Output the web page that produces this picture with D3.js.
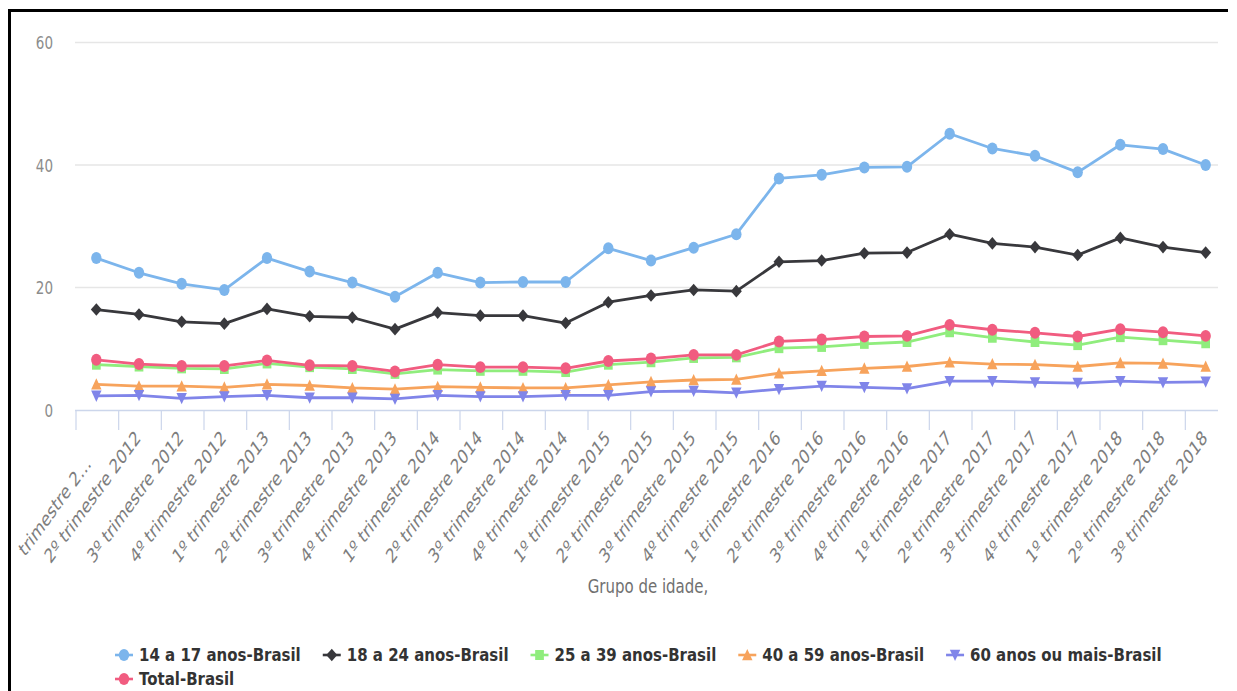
<!DOCTYPE html>
<html><head><meta charset="utf-8">
<script src="https://cdn.jsdelivr.net/npm/d3@7/dist/d3.min.js"></script>
<style>
html,body{margin:0;padding:0;background:#fff;}
svg{display:block;}
</style></head>
<body>
<svg id="chart" width="1237" height="691"></svg>
<script>
// ---------- DATA ----------
const categories = [
  "1º trimestre 2012","2º trimestre 2012","3º trimestre 2012","4º trimestre 2012",
  "1º trimestre 2013","2º trimestre 2013","3º trimestre 2013","4º trimestre 2013",
  "1º trimestre 2014","2º trimestre 2014","3º trimestre 2014","4º trimestre 2014",
  "1º trimestre 2015","2º trimestre 2015","3º trimestre 2015","4º trimestre 2015",
  "1º trimestre 2016","2º trimestre 2016","3º trimestre 2016","4º trimestre 2016",
  "1º trimestre 2017","2º trimestre 2017","3º trimestre 2017","4º trimestre 2017",
  "1º trimestre 2018","2º trimestre 2018","3º trimestre 2018"
];
const firstLabelShown = "trimestre 2…";
const s14a17 = [24.8,22.4,20.6,19.6,24.8,22.6,20.8,18.5,22.4,20.8,20.9,20.9,26.4,24.4,26.5,28.7,37.8,38.4,39.6,39.7,45.1,42.7,41.5,38.8,43.3,42.6,40.0];
const s18a24 = [16.4,15.6,14.4,14.1,16.5,15.3,15.1,13.2,15.9,15.4,15.4,14.2,17.6,18.7,19.6,19.4,24.2,24.4,25.6,25.7,28.7,27.2,26.6,25.3,28.1,26.6,25.7];
const s25a39 = [7.4,7.1,6.8,6.7,7.6,7.0,6.7,5.9,6.6,6.4,6.4,6.2,7.4,7.8,8.5,8.6,10.1,10.3,10.8,11.1,12.7,11.8,11.1,10.6,11.9,11.4,10.9];
const s40a59 = [4.2,3.9,3.9,3.7,4.2,4.0,3.6,3.4,3.8,3.7,3.6,3.6,4.1,4.6,4.9,5.0,6.0,6.4,6.8,7.1,7.8,7.5,7.4,7.1,7.7,7.6,7.1];
const s60mais = [2.3,2.4,1.9,2.2,2.4,2.0,2.0,1.8,2.4,2.2,2.2,2.4,2.4,3.0,3.1,2.8,3.4,3.9,3.7,3.5,4.7,4.7,4.5,4.4,4.7,4.5,4.6];
const sTotal = [8.2,7.5,7.2,7.2,8.1,7.3,7.2,6.3,7.4,7.0,7.0,6.8,8.0,8.4,9.0,9.0,11.2,11.5,12.0,12.1,13.9,13.1,12.6,12.0,13.2,12.7,12.1];
const seriesNames = ["14 a 17 anos-Brasil","18 a 24 anos-Brasil","25 a 39 anos-Brasil","40 a 59 anos-Brasil","60 anos ou mais-Brasil","Total-Brasil"];
const yTicks = [0,20,40,60];
const xAxisTitle = "Grupo de idade,";

// ---------- STYLE ----------
const colors = ["#7cb5ec","#38383c","#90ed7d","#f7a35c","#8085e9","#f15c80"];
const markers = ["circle","diamond","square","triangle","triangle-down","circle"];
const seriesValues = [s14a17,s18a24,s25a39,s40a59,s60mais,sTotal];
const series = seriesNames.map((n,i)=>({name:n,values:seriesValues[i],color:colors[i],marker:markers[i]}));

const svg = d3.select("#chart");
const plotLeft = 75, plotRight = 1227, gridRight = 1218, plotTop = 42.5, plotBottom = 410;

const x = d3.scaleBand().domain(categories).range([plotLeft, plotRight]);
const cx = c => x(c) + x.bandwidth()/2;
const y = d3.scaleLinear().domain([0,60]).range([plotBottom, plotTop]);

// frame
svg.append("line").attr("x1",8).attr("x2",1228).attr("y1",10.5).attr("y2",10.5)
  .attr("stroke","#000").attr("stroke-width",3);
svg.append("line").attr("x1",9.5).attr("x2",9.5).attr("y1",9).attr("y2",691)
  .attr("stroke","#000").attr("stroke-width",3);

// gridlines
svg.append("g").selectAll("line").data(yTicks.filter(t=>t>0)).join("line")
  .attr("x1",plotLeft).attr("x2",gridRight)
  .attr("y1",d=>y(d)).attr("y2",d=>y(d))
  .attr("stroke","#e6e6e6").attr("stroke-width",1.5);

// y labels
svg.append("g").selectAll("text").data(yTicks).join("text")
  .attr("transform",d=>`translate(53,${y(d)+1}) scale(1,1.25)`)
  .attr("text-anchor","end").attr("dy","0.35em")
  .attr("font-family","DejaVu Sans, sans-serif").attr("font-size",13.5)
  .attr("fill","#8c8c8c").text(d=>d);

// x axis line and ticks
svg.append("line").attr("x1",plotLeft).attr("x2",gridRight)
  .attr("y1",plotBottom+0.5).attr("y2",plotBottom+0.5)
  .attr("stroke","#ccd6eb").attr("stroke-width",1.5);
svg.append("g").selectAll("line").data(categories).join("line")
  .attr("x1",d=>x(d)+1).attr("x2",d=>x(d)+1)
  .attr("y1",plotBottom).attr("y2",plotBottom+20)
  .attr("stroke","#ccd6eb").attr("stroke-width",1.2);

// x labels
svg.append("g").selectAll("text").data(categories).join("text")
  .attr("transform",(d,i)=> i===0
      ? `translate(${cx(d)-8},${plotBottom+50}) scale(1,1.38) rotate(-45)`
      : `translate(${cx(d)-1},${plotBottom+24}) scale(1,1.38) rotate(-45)`)
  .attr("text-anchor","end").attr("dy","0.35em")
  .attr("font-family","DejaVu Sans, sans-serif").attr("font-size",14.5)
  .attr("fill","#7d7d7d").text((d,i)=> i===0 ? firstLabelShown : d);

// axis title
svg.append("text").attr("transform",`translate(648,586) scale(1,1.25)`)
  .attr("text-anchor","middle").attr("dy","0.35em")
  .attr("font-family","DejaVu Sans, sans-serif").attr("font-size",15)
  .attr("fill","#707070").text(xAxisTitle);

// marker path
function markerPath(type){
  switch(type){
    case "circle": return d3.symbol(d3.symbolCircle, 85)();
    case "diamond": return "M0,-5.5L5.5,0L0,5.5L-5.5,0Z";
    case "square": return d3.symbol(d3.symbolSquare, 76)();
    case "triangle": return "M0,-5.2L5.2,4.6L-5.2,4.6Z";
    case "triangle-down": return "M0,5.2L5.2,-4.6L-5.2,-4.6Z";
  }
}

const line = d3.line().x((d,i)=>cx(categories[i])).y(d=>y(d));
const gSeries = svg.append("g");
series.forEach(s=>{
  const g = gSeries.append("g");
  g.append("path").attr("d",line(s.values)).attr("fill","none")
    .attr("stroke",s.color).attr("stroke-width",2.8).attr("stroke-linejoin","round");
  g.selectAll("path.m").data(s.values).join("path").attr("class","m")
    .attr("transform",(d,i)=>`translate(${cx(categories[i])},${y(d)}) scale(1,1.15)`)
    .attr("d",markerPath(s.marker)).attr("fill",s.color);
});

// legend
const legend = svg.append("g");
let lx = 115;
const rows = [655, 679];
series.forEach((s,i)=>{
  const rowY = i<5 ? rows[0] : rows[1];
  if(i===5) lx = 115;
  const g = legend.append("g");
  g.append("line").attr("x1",lx).attr("x2",lx+18).attr("y1",rowY).attr("y2",rowY)
    .attr("stroke",s.color).attr("stroke-width",2.6);
  g.append("path").attr("transform",`translate(${lx+9},${rowY}) scale(1,1.15)`)
    .attr("d",markerPath(s.marker)).attr("fill",s.color);
  const t = g.append("text").attr("transform",`translate(${lx+24},${rowY}) scale(1,1.2)`)
    .attr("dy","0.36em").attr("font-family","DejaVu Sans, sans-serif")
    .attr("font-weight","bold").attr("font-size",15).attr("fill","#333333").text(s.name);
  const w = t.node().getComputedTextLength();
  lx = lx + 24 + w + 22;
});
</script>
</body></html>
